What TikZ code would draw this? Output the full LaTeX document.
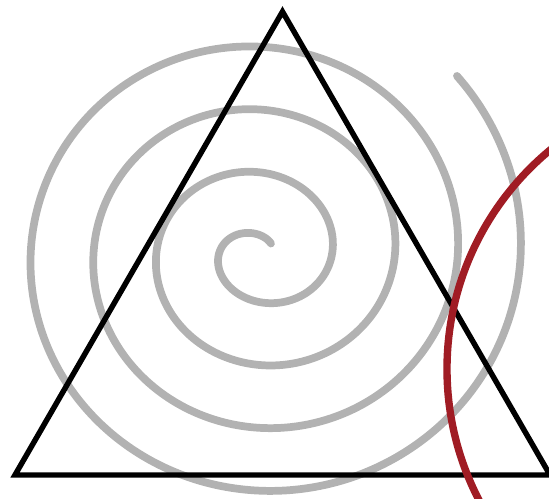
\documentclass[tikz,border=0pt]{standalone}
\usepackage{xcolor}
\usepackage{tikz}
\usetikzlibrary{calc}
\definecolor{spiralgray}{RGB}{178,178,178}
\definecolor{arcred}{RGB}{160,28,36}

\begin{document}
\begin{tikzpicture}[
        x=0.02cm, y=0.02cm,
        spiral/.style={
            draw=spiralgray,
            line width=4.4pt,
            line cap=round
        },
        tri/.style={
            draw=black,
            line width=3.1pt,
            line join=miter
        },
        redarc/.style={
            draw=arcred,
            line width=4.2pt
        }
    ]
        \useasboundingbox (0,0) rectangle (549,499);
        \begin{scope}
            \clip (0,0) rectangle (549,499);

            % Spiral
            \draw [spiral] plot [domain=0.95:25.88, samples=500, smooth]
                ({260+(9.4+10*\x)*cos(\x r)}, {246+(2.1+10*\x)*sin(\x r)});

            % Triangle
            \coordinate (left) at (15,24);
            \coordinate (right) at (550,24);
            \coordinate (top) at (282.5,487.3);
            \draw [tri] (left) -- (right) -- (top) -- cycle;

            % Arc
            \coordinate (arccenter) at (731,130);
            \draw [redarc] (arccenter) circle [radius=284];
        \end{scope}
\end{tikzpicture}
\end{document}
